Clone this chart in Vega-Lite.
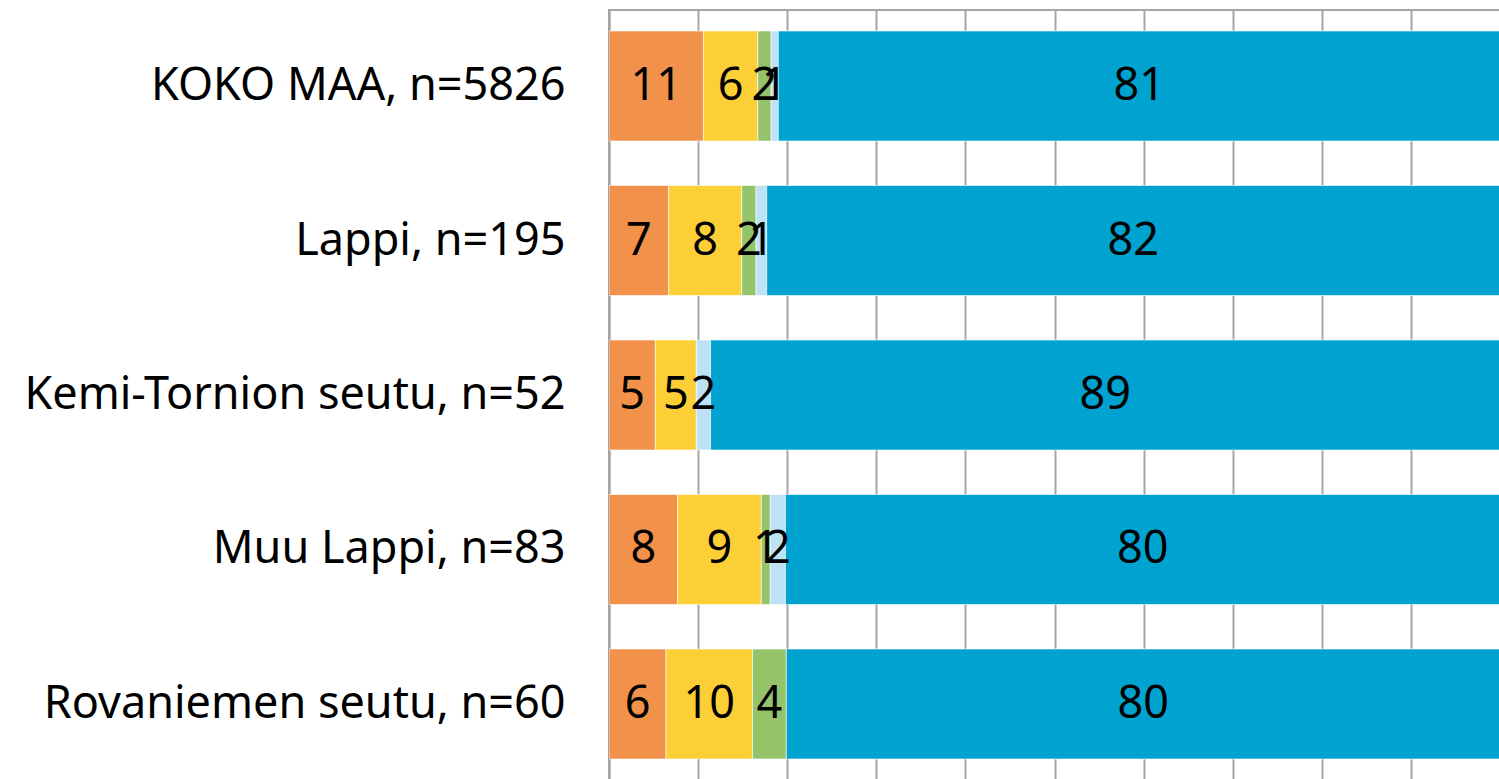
{
  "$schema": "https://vega.github.io/schema/vega-lite/v6.json",
  "autosize": {"type": "none"},
  "padding": {"left": 609, "top": 10, "right": 0, "bottom": 0},
  "width": 891,
  "height": 770,
  "background": "#ffffff",
  "config": {
    "view": {"stroke": "#A6A6A6", "strokeWidth": 2},
    "font": "Noto Sans"
  },
  "data": {
    "values": [
      {"region": "KOKO MAA, n=5826", "k": "1", "pct": 10.6},
      {"region": "KOKO MAA, n=5826", "k": "2", "pct": 6.1},
      {"region": "KOKO MAA, n=5826", "k": "3", "pct": 1.5},
      {"region": "KOKO MAA, n=5826", "k": "4", "pct": 0.8},
      {"region": "KOKO MAA, n=5826", "k": "5", "pct": 81.0},
      {"region": "Lappi, n=195", "k": "1", "pct": 6.7},
      {"region": "Lappi, n=195", "k": "2", "pct": 8.2},
      {"region": "Lappi, n=195", "k": "3", "pct": 1.6},
      {"region": "Lappi, n=195", "k": "4", "pct": 1.2},
      {"region": "Lappi, n=195", "k": "5", "pct": 82.3},
      {"region": "Kemi-Tornion seutu, n=52", "k": "1", "pct": 5.2},
      {"region": "Kemi-Tornion seutu, n=52", "k": "2", "pct": 4.6},
      {"region": "Kemi-Tornion seutu, n=52", "k": "4", "pct": 1.6},
      {"region": "Kemi-Tornion seutu, n=52", "k": "5", "pct": 88.6},
      {"region": "Muu Lappi, n=83", "k": "1", "pct": 7.7},
      {"region": "Muu Lappi, n=83", "k": "2", "pct": 9.4},
      {"region": "Muu Lappi, n=83", "k": "3", "pct": 1.0},
      {"region": "Muu Lappi, n=83", "k": "4", "pct": 1.7},
      {"region": "Muu Lappi, n=83", "k": "5", "pct": 80.2},
      {"region": "Rovaniemen seutu, n=60", "k": "1", "pct": 6.4},
      {"region": "Rovaniemen seutu, n=60", "k": "2", "pct": 9.7},
      {"region": "Rovaniemen seutu, n=60", "k": "3", "pct": 3.8},
      {"region": "Rovaniemen seutu, n=60", "k": "5", "pct": 80.1}
    ]
  },
  "encoding": {
    "y": {
      "field": "region",
      "type": "nominal",
      "sort": ["KOKO MAA, n=5826", "Lappi, n=195", "Kemi-Tornion seutu, n=52", "Muu Lappi, n=83", "Rovaniemen seutu, n=60"],
      "scale": {"paddingInner": 0.288, "paddingOuter": 0.136},
      "axis": {
        "title": null,
        "ticks": false,
        "labelPadding": 44,
        "labelFontSize": 45,
        "labelFont": "Noto Sans",
        "labelColor": "#000000",
        "labelLimit": 700,
        "domain": true,
        "domainColor": "#A6A6A6",
        "domainWidth": 2,
        "grid": false
      }
    },
    "order": {"field": "k", "type": "ordinal", "sort": "ascending"}
  },
  "layer": [
    {
      "mark": {"type": "bar", "stroke": "#ffffff", "strokeWidth": 1, "strokeOpacity": 0.6, "clip": true},
      "encoding": {
        "x": {
          "field": "pct",
          "type": "quantitative",
          "stack": "zero",
          "scale": {"domain": [0, 100], "nice": false},
          "axis": {
            "title": null,
            "labels": false,
            "ticks": false,
            "domain": false,
            "grid": true,
            "gridColor": "#A6A6A6",
            "gridWidth": 2,
            "values": [0, 10, 20, 30, 40, 50, 60, 70, 80, 90, 100]
          }
        },
        "color": {
          "field": "k",
          "type": "nominal",
          "scale": {"domain": ["1", "2", "3", "4", "5"], "range": ["#F1914A", "#FDCF37", "#95C36A", "#BEE2F5", "#00A2CF"]},
          "legend": null
        }
      }
    },
    {
      "mark": {"type": "text", "fontSize": 45, "font": "Noto Sans", "color": "#000000", "align": "center", "baseline": "middle"},
      "encoding": {
        "x": {"field": "pct", "type": "quantitative", "stack": "zero", "bandPosition": 0.5},
        "detail": {"field": "k", "type": "nominal"},
        "text": {"field": "pct", "type": "quantitative", "format": ".0f"}
      }
    }
  ]
}
